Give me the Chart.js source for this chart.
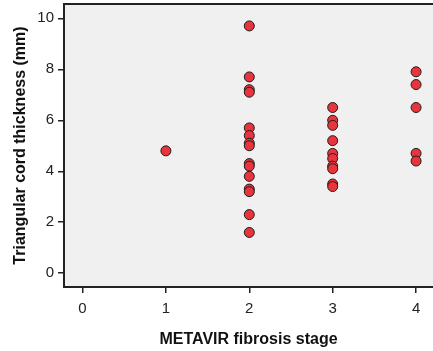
<!DOCTYPE html>
<html lang="en">
<head>
<meta charset="UTF-8">
<title>Triangular cord thickness vs METAVIR stage</title>
<script src="https://cdn.jsdelivr.net/npm/chart.js"></script>
<style>
  body { margin: 0; background: #ffffff; }
  #wrap { width: 433px; height: 351px; }
</style>
</head>
<body>
<div id="wrap"><canvas id="grafico" width="433" height="351"></canvas></div>
<script>
// valores
const stage1 = [4.8];
const stage2 = [9.7, 7.7, 7.2, 7.1, 5.7, 5.4, 5.1, 5.0, 4.3, 4.2, 3.8, 3.3, 3.2, 2.3, 1.6];
const stage3 = [6.5, 6.0, 5.8, 5.2, 4.7, 4.5, 4.2, 4.1, 3.5, 3.4];
const stage4 = [7.9, 7.4, 6.5, 4.7, 4.4];
const xTicks = [0, 1, 2, 3, 4];
const yTicks = [0, 2, 4, 6, 8, 10];

const pontos = [];
[[1, stage1], [2, stage2], [3, stage3], [4, stage4]].forEach(([s, vals]) => {
    vals.forEach(v => pontos.push({ x: s, y: v }));
});

// fundo cinza da area do grafico + linha de cima
const fundo = {
    id: 'fundo',
    beforeDraw(chart) {
        const { ctx, chartArea: a } = chart;
        ctx.save();
        ctx.fillStyle = '#f0f0f0';
        ctx.fillRect(a.left, a.top, a.right - a.left, a.bottom - a.top);
        ctx.strokeStyle = '#222';
        ctx.lineWidth = 2;
        ctx.beginPath();
        ctx.moveTo(a.left - 1, a.top);
        ctx.lineTo(a.right, a.top);
        ctx.stroke();
        ctx.restore();
    }
};

const fonte = { family: '"Liberation Sans", Arial, sans-serif', size: 15 };
const fonteTitulo = { family: '"Liberation Sans", Arial, sans-serif', size: 16, weight: 'bold' };

new Chart(document.getElementById('grafico'), {
    type: 'scatter',
    data: {
        datasets: [{
            data: pontos,
            backgroundColor: '#e8343c',
            borderColor: '#1e1e1e',
            borderWidth: 1,
            pointRadius: 5,
            pointHoverRadius: 5
        }]
    },
    plugins: [fundo],
    options: {
        responsive: false,
        animation: false,
        devicePixelRatio: 1,
        layout: { autoPadding: false, padding: { top: 4, left: 0, right: 0, bottom: 0 } },
        plugins: { legend: { display: false }, tooltip: { enabled: false } },
        scales: {
            x: {
                type: 'linear',
                min: -0.222,
                max: 4.203,
                afterBuildTicks: s => { s.ticks = xTicks.map(v => ({ value: v })); },
                afterFit: s => { s.height = 64; s.paddingLeft = 0; s.paddingRight = 0; },
                grid: { drawOnChartArea: false, drawTicks: true, tickLength: 6, color: '#222', lineWidth: 1.5 },
                border: { display: true, color: '#222', width: 2 },
                ticks: { color: '#222', font: fonte, padding: 7, maxRotation: 0 },
                title: { display: true, text: 'METAVIR fibrosis stage', color: '#111', font: fonteTitulo, padding: { top: 0, bottom: 2 } }
            },
            y: {
                type: 'linear',
                min: -0.54,
                max: 10.56,
                afterBuildTicks: s => { s.ticks = yTicks.map(v => ({ value: v })); },
                afterFit: s => { s.width = 64; s.paddingTop = 0; s.paddingBottom = 0; },
                grid: { drawOnChartArea: false, drawTicks: true, tickLength: 6, color: '#222', lineWidth: 1.5 },
                border: { display: true, color: '#222', width: 2 },
                ticks: { color: '#222', font: fonte, padding: 4 },
                title: { display: true, text: 'Triangular cord thickness (mm)', color: '#111', font: fonteTitulo, padding: { top: 11, bottom: 0 } }
            }
        }
    }
});
</script>
</body>
</html>
